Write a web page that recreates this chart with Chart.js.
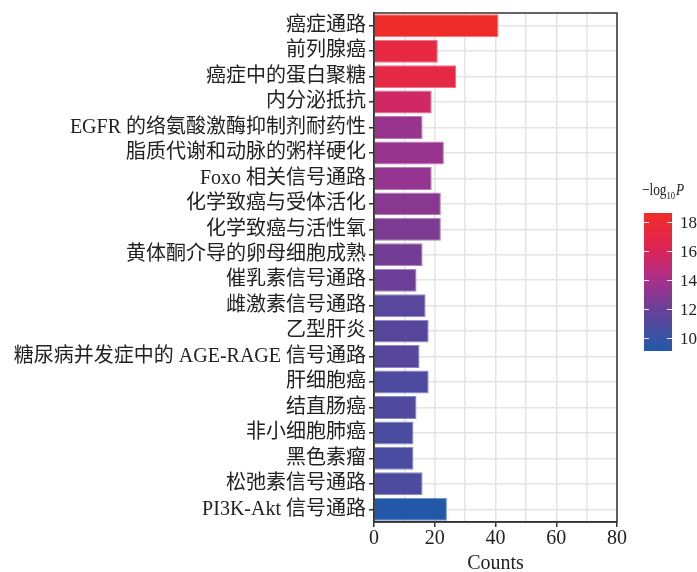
<!DOCTYPE html>
<html>
<head>
<meta charset="utf-8">
<script src="https://cdn.jsdelivr.net/npm/chart.js@4/dist/chart.umd.min.js"></script>
<style>
html,body{margin:0;padding:0;background:#fff;}
#wrap{width:697px;height:572px;position:relative;}
</style>
</head>
<body>
<div id="wrap"><canvas id="c" width="697" height="572"></canvas></div>
<script>
// ---- data ----
const categories = [
  '癌症通路','前列腺癌','癌症中的蛋白聚糖','内分泌抵抗','EGFR 的络氨酸激酶抑制剂耐药性',
  '脂质代谢和动脉的粥样硬化','Foxo 相关信号通路','化学致癌与受体活化','化学致癌与活性氧','黄体酮介导的卵母细胞成熟',
  '催乳素信号通路','雌激素信号通路','乙型肝炎','糖尿病并发症中的 AGE-RAGE 信号通路','肝细胞癌',
  '结直肠癌','非小细胞肺癌','黑色素瘤','松弛素信号通路','PI3K-Akt 信号通路'
];
const counts = [41,21,27,19,16,23,19,22,22,16,14,17,18,15,18,14,13,13,16,24];
const negLog10P = [18.6,17.3,17.1,15.5,13.5,13.5,13.4,13.0,12.6,12.3,12.1,11.3,11.2,11.2,10.8,10.9,10.7,10.7,10.8,9.07];
const xTickLabels = [0,20,40,60,80];
const colorbarTicks = [10,12,14,16,18];
const colorRange = [9.07, 18.63];

// ---- colour map ----
const stops = [
  [9.07,'#2357A7'],[10,'#3853A5'],[12,'#6A3F98'],[14,'#A8308B'],
  [16,'#DC2558'],[18,'#EC2A33'],[18.63,'#EF2B2A']
];
function hex2rgb(h){return [parseInt(h.slice(1,3),16),parseInt(h.slice(3,5),16),parseInt(h.slice(5,7),16)];}
function cmap(v){
  if(v<=stops[0][0]) return hex2rgb(stops[0][1]);
  for(let i=1;i<stops.length;i++){
    if(v<=stops[i][0]){
      const t=(v-stops[i-1][0])/(stops[i][0]-stops[i-1][0]);
      const a=hex2rgb(stops[i-1][1]), b=hex2rgb(stops[i][1]);
      return a.map((x,k)=>Math.round(x+(b[k]-x)*t));
    }
  }
  return hex2rgb(stops[stops.length-1][1]);
}
const rgbStr = c => `rgb(${c[0]},${c[1]},${c[2]})`;
const fillColors = negLog10P.map(v=>rgbStr(cmap(v)));
const edgeColors = negLog10P.map(v=>rgbStr(cmap(v).map(x=>Math.round(x+(255-x)*0.35))));

const FONT = '"Liberation Serif", "Times New Roman", "Noto Sans CJK SC", serif';
const DARK = '#333333';

// frame + colour bar
const extras = {
  id:'extras',
  afterDraw(chart){
    const ctx = chart.ctx, a = chart.chartArea;
    ctx.save();
    ctx.strokeStyle = DARK; ctx.lineWidth = 1.5;
    ctx.strokeRect(a.left, a.top, a.right-a.left, a.bottom-a.top);
    // colour bar
    const x0 = 644, x1 = 672, yTop = 213, yBot = 351;
    const vTop = colorRange[1], vBot = colorRange[0];
    const vy = v => yBot - (v - vBot)/(vTop - vBot)*(yBot - yTop);
    for(let y=yTop; y<yBot; y++){
      const v = vTop - (y - yTop + 0.5)/(yBot - yTop)*(vTop - vBot);
      ctx.fillStyle = rgbStr(cmap(v));
      ctx.fillRect(x0, y, x1-x0, 1);
    }
    ctx.strokeStyle = 'rgba(255,255,255,0.9)'; ctx.lineWidth = 1;
    ctx.fillStyle = '#222'; ctx.font = '17px '+FONT;
    ctx.textBaseline = 'middle'; ctx.textAlign = 'left';
    colorbarTicks.forEach(t=>{
      const y = Math.round(vy(t))+0.5;
      ctx.beginPath();
      ctx.moveTo(x0, y); ctx.lineTo(x0+5, y);
      ctx.moveTo(x1-5, y); ctx.lineTo(x1, y);
      ctx.stroke();
      ctx.fillText(String(t), 680, y+1);
    });
    // legend title  −log10 P
    ctx.textBaseline = 'alphabetic';
    const parts = [['\u2212log','17px '+FONT,0],['10','11px '+FONT,4],['P','italic 17px '+FONT,0]];
    let w = 0;
    parts.forEach(p=>{ ctx.font = p[1]; w += ctx.measureText(p[0]).width; });
    w += 1;
    const target = 42, sx = Math.min(1, target / w);
    ctx.translate(642, 0); ctx.scale(sx, 1);
    let x = 0; const yb = 195;
    parts.forEach((p,i)=>{
      ctx.font = p[1];
      ctx.fillText(p[0], x, yb + p[2]);
      x += ctx.measureText(p[0]).width + (i===1 ? 1 : 0);
    });
    ctx.restore();
  }
};

new Chart(document.getElementById('c'), {
  type:'bar',
  data:{
    labels: categories,
    datasets:[{
      data: counts,
      backgroundColor: fillColors,
      borderColor: edgeColors,
      borderWidth: 1,
      barPercentage: 0.9,
      categoryPercentage: 1.0
    }]
  },
  options:{
    indexAxis:'y',
    responsive:false,
    animation:false,
    layout:{padding:{left:0, right:80, top:11, bottom:0}},
    plugins:{legend:{display:false}, tooltip:{enabled:false}},
    scales:{
      x:{
        type:'linear', min:0, max:80,
        afterFit(s){ s.height = 50; },
        afterBuildTicks(s){ s.ticks = [0,10,20,30,40,50,60,70,80].map(v=>({value:v})); },
        ticks:{
          color:'#222', padding:2,
          font:{family:FONT, size:20, lineHeight:1},
          callback:(v)=> xTickLabels.includes(v) ? String(v) : ''
        },
        grid:{
          color:'#E4E4E4', lineWidth:1.5, tickLength:5, tickWidth:1.5,
          tickColor:(c)=> (c.tick && c.tick.value % 20 === 0) ? DARK : 'rgba(0,0,0,0)'
        },
        border:{display:true, color:DARK, width:1.5},
        title:{display:true, text:'Counts', color:'#222',
          font:{family:FONT, size:20, lineHeight:1}, padding:{top:0,bottom:-2}}
      },
      y:{
        type:'category',
        afterFit(s){ s.width = 374; },
        ticks:{color:'#222', padding:3, font:{family:FONT, size:20, lineHeight:1}, autoSkip:false},
        grid:{offset:false, color:'#E4E4E4', lineWidth:1.5, tickLength:5, tickWidth:1.5, tickColor:DARK},
        border:{display:true, color:DARK, width:1.5}
      }
    }
  },
  plugins:[extras]
});
</script>
</body>
</html>
